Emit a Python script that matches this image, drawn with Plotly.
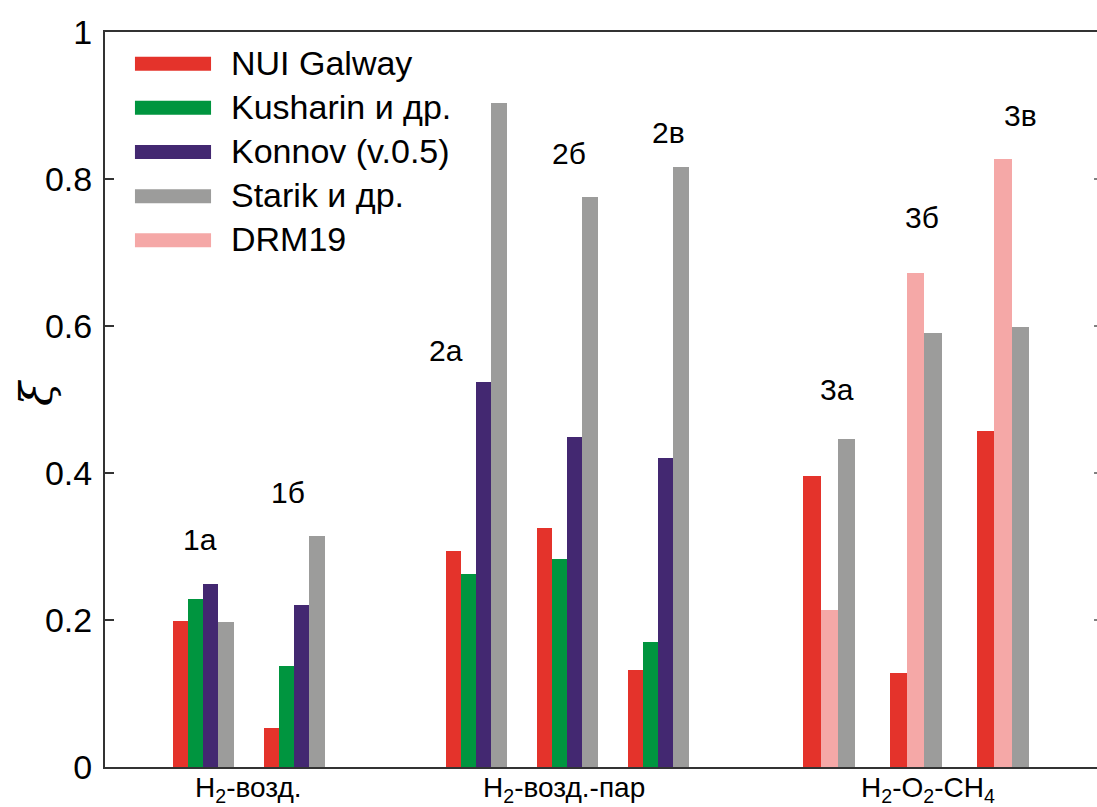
import plotly.graph_objects as go

# Cases: three mixtures, each with several experimental conditions
cases = ["1а", "1б", "2а", "2б", "2в", "3а", "3б", "3в"]
mixtures = ["H<sub>2</sub>-возд.", "H<sub>2</sub>-возд.-пар", "H<sub>2</sub>-O<sub>2</sub>-CH<sub>4</sub>"]

# ξ for each kinetic mechanism (None = not computed for that case)
nui_galway = [0.199, 0.053, 0.294, 0.325, 0.132, 0.396, 0.128, 0.457]
kusharin = [0.228, 0.137, 0.263, 0.283, 0.170, None, None, None]
konnov = [0.249, 0.221, 0.524, 0.449, 0.421, None, None, None]
starik = [0.197, 0.314, 0.903, 0.775, 0.816, 0.446, 0.590, 0.599]
drm19 = [None, None, None, None, None, 0.213, 0.672, 0.827]

series_names = ["NUI Galway", "Kusharin и др.", "Konnov (v.0.5)", "Starik и др.", "DRM19"]
series_values = [nui_galway, kusharin, konnov, starik, drm19]
series_colors = ["#E4332B", "#00953F", "#432871", "#9C9C9B", "#F5A8A7"]
# left-to-right order of bars inside a group
bar_order = [0, 1, 2, 4, 3]

# Layout of the bar groups along the x axis (one unit = one group slot)
group_pos = [0.0, 1.0, 3.0, 4.0, 5.0, 6.88, 7.83, 8.79]
bar_w = [0.168] * 5 + [0.191] * 3
mixture_pos = [0.5, 3.97, 7.96]

# case label placement (x in axis units, y in ξ units)
case_label_x = [-0.04, 0.93, 2.665, 4.02, 5.11, 6.97, 7.90, 8.98]
case_label_y = [0.309, 0.373, 0.567, 0.835, 0.863, 0.513, 0.747, 0.887]

FONT = "Liberation Sans, Arial, sans-serif"
AXIS_COLOR = "#333333"

fig = go.Figure()

for i in range(len(cases)):
    present = [k for k in bar_order if series_values[k][i] is not None]
    n = len(present)
    for slot, k in enumerate(present):
        xc = group_pos[i] + (slot - (n - 1) / 2) * bar_w[i]
        fig.add_trace(go.Bar(
            x=[xc], y=[series_values[k][i]], width=[bar_w[i]],
            marker=dict(color=series_colors[k], line=dict(width=0)),
            name=series_names[k], showlegend=False,
        ))

# case labels above the bars
for name, x, y in zip(cases, case_label_x, case_label_y):
    fig.add_annotation(x=x, y=y, xref="x", yref="y", text=name, showarrow=False,
                       xanchor="center", yanchor="middle",
                       font=dict(family=FONT, size=30, color="black"))

# mixture names under the axis
for name, x in zip(mixtures, mixture_pos):
    fig.add_annotation(x=x, y=-0.031, xref="x", yref="paper", text=name, showarrow=False,
                       xanchor="center", yanchor="middle",
                       font=dict(family=FONT, size=28, color="black"))

# legend drawn as wide colour swatches with labels
shapes = []
leg_top = 63.7
row_h = 44.15
for k, (name, col) in enumerate(zip(series_names, series_colors)):
    cy_px = leg_top + k * row_h
    yc = (767 - cy_px) / 735
    half = 7 / 735
    shapes.append(dict(type="rect", xref="paper", yref="paper",
                       x0=0.0302, x1=0.1069, y0=yc - half, y1=yc + half,
                       fillcolor=col, line=dict(width=0)))
    fig.add_annotation(x=0.125, y=yc + 1 / 735, xref="paper", yref="paper", text=name,
                       showarrow=False, xanchor="left", yanchor="middle",
                       font=dict(family=FONT, size=34, color="black"))

# short tick marks on the right edge
for v in [0.2, 0.4, 0.6, 0.8]:
    shapes.append(dict(type="line", xref="paper", yref="y", x0=0.997, x1=1.0,
                       y0=v, y1=v, line=dict(color="#555555", width=1.5)))

# y-axis symbol
fig.add_annotation(x=-0.0696, y=0.51, xref="paper", yref="paper", text="<i>ξ</i>",
                   showarrow=False, textangle=-90, xanchor="center", yanchor="middle",
                   font=dict(family="DejaVu Serif, serif", size=44, color="black"))

fig.update_layout(
    width=1097, height=807,
    margin=dict(l=105, r=0, t=32, b=40, pad=0),
    paper_bgcolor="white", plot_bgcolor="white",
    barmode="overlay", bargap=0,
    shapes=shapes,
    showlegend=False,
    xaxis=dict(
        range=[-1.079, 9.822], showticklabels=False,
        showgrid=False, zeroline=False, showline=True, linecolor=AXIS_COLOR, linewidth=2,
        mirror=True, ticks="", automargin=False,
    ),
    yaxis=dict(
        range=[0, 1], tickmode="array", tickvals=[0, 0.2, 0.4, 0.6, 0.8, 1],
        ticktext=["0", "0.2", "0.4", "0.6", "0.8", "1"],
        showgrid=False, zeroline=False, showline=True, linecolor=AXIS_COLOR, linewidth=2,
        ticks="inside", ticklen=9, tickwidth=1.5, tickcolor=AXIS_COLOR,
        ticklabelstandoff=4, automargin=False,
        tickfont=dict(family=FONT, size=34, color="black"),
    ),
)

fig.write_html("out.html")
